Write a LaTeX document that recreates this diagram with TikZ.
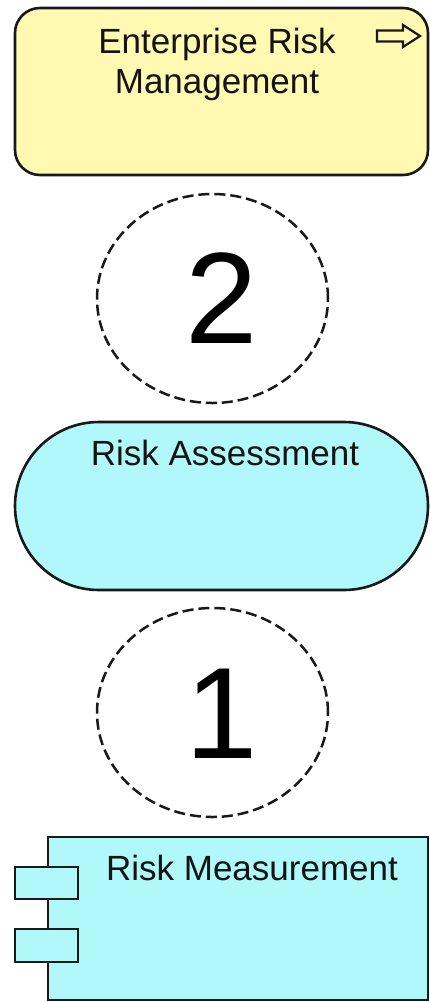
\documentclass[tikz,border=0pt]{standalone}
\usepackage{fontspec}
\setmainfont{Liberation Sans}
\usetikzlibrary{shapes.geometric}
\definecolor{erYellow}{HTML}{FFF9B2}
\definecolor{raCyan}{HTML}{B0F8FA}
\begin{document}
\begin{tikzpicture}[x=1pt,y=-1pt,
  outline/.style={draw=black!90, line width=2.6pt},
  lbl/.style={anchor=base, inner sep=0pt, font=\fontsize{35}{40}\selectfont, text=black!92},
  digit/.style={anchor=base, inner sep=0pt, font=\fontsize{130}{130}\selectfont},
  dashring/.style={ellipse, draw=black!90, line width=2.5pt, dash pattern=on 11pt off 5pt, minimum width=231pt, minimum height=209pt, inner sep=0pt}]
\useasboundingbox[fill=white] (0,0) rectangle (430,1002);

% Enterprise Risk Management (business function)
\node[outline, fill=erYellow, rounded corners=25pt, minimum width=413pt, minimum height=167pt, inner sep=0pt] (erm) at (221.5,91.5) {};
\node[lbl] (ermA) at (217,53) {Enterprise Risk};
\node[lbl] (ermB) at (217,93) {Management};
\draw[line width=2.2pt, draw=black!90, fill=erYellow, line join=miter]
  (377,30.5) -- (403,30.5) -- (403,25) -- (420,36) -- (403,47) -- (403,41.5) -- (377,41.5) -- cycle;

% circle 2
\node[dashring] (c2) at (212.5,298.5) {};
\node[digit] (d2) at (222,343) {2};

% Risk Assessment (service)
\node[outline, fill=raCyan, rounded corners=84pt, minimum width=413pt, minimum height=168pt, inner sep=0pt] (ra) at (221.5,506) {};
\node[lbl] (raT) at (225,465) {Risk Assessment};

% circle 1
\node[dashring] (c1) at (212.5,712.5) {};
\node[digit] (d1) at (222,758) {1};

% Risk Measurement (component)
\node[outline, fill=raCyan, minimum width=380pt, minimum height=163pt, inner sep=0pt] (rm) at (238,918.5) {};
\node[outline, fill=raCyan, minimum width=63pt, minimum height=32pt, inner sep=0pt] (p1) at (46.5,883) {};
\node[outline, fill=raCyan, minimum width=63pt, minimum height=33pt, inner sep=0pt] (p2) at (46.5,945.5) {};
\node[lbl] (rmT) at (252,880) {Risk Measurement};
\end{tikzpicture}
\end{document}
